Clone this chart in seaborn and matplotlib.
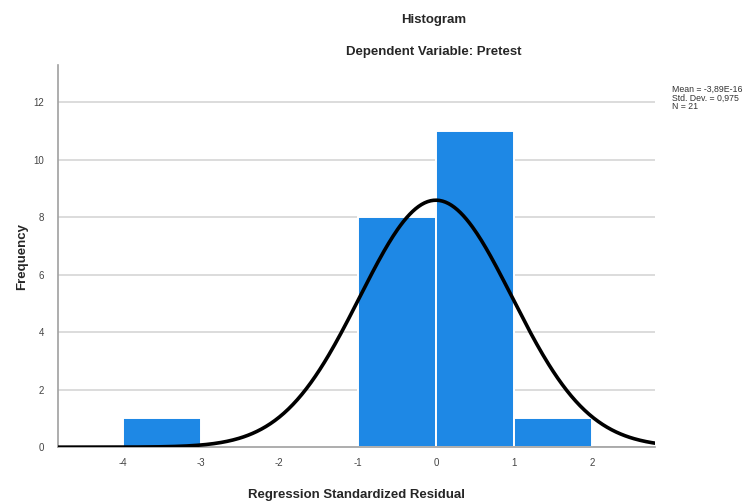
import numpy as np
import matplotlib
matplotlib.use('Agg')
import matplotlib.pyplot as plt
import seaborn as sns

# 히스토그램 구간과 빈도
bin_edges = [-4, -3, -2, -1, 0, 1, 2]
bin_counts = [1, 0, 0, 8, 11, 1]
x_ticks = [-4, -3, -2, -1, 0, 1, 2]
y_ticks = [0, 2, 4, 6, 8, 10, 12]

# 정규곡선용 요약 통계
resid_mean = -3.89e-16
resid_std = 0.975
n_obs = 21

sns.set_style('white')
plt.rcParams['font.family'] = ['Liberation Sans', 'DejaVu Sans']

fig = plt.figure(figsize=(7.52, 5.03), dpi=100)
ax = fig.add_axes([0.077, 0.111, 0.794, 0.76])

centers = [(a + b) / 2 for a, b in zip(bin_edges[:-1], bin_edges[1:])]
sns.histplot(ax=ax, x=centers, weights=bin_counts, bins=bin_edges,
             color='#1E88E5', alpha=1, edgecolor='white', linewidth=1.4, zorder=2)

# 정규분포 곡선
xs = np.linspace(-4.83, 2.8, 400)
bw = bin_edges[1] - bin_edges[0]
ys = n_obs * bw / (resid_std * np.sqrt(2 * np.pi)) * np.exp(-0.5 * ((xs - resid_mean) / resid_std) ** 2)
sns.lineplot(ax=ax, x=xs, y=ys, color='black', linewidth=2.6, zorder=3)

ax.set_xlim(-4.83, 2.8)
ax.set_ylim(0, 13.3)
ax.set_xticks(x_ticks)
ax.set_yticks(y_ticks)
ax.set_xticklabels([str(t) for t in x_ticks])
ax.tick_params(axis='both', length=0, labelsize=7, colors='#444444')
ax.tick_params(axis='x', pad=8)
ax.tick_params(axis='y', pad=10)
ax.yaxis.grid(True, color='#d6d6d6', linewidth=1.2)
ax.set_axisbelow(True)
for s in ['top', 'right']:
    ax.spines[s].set_visible(False)
for s in ['left', 'bottom']:
    ax.spines[s].set_color('#a0a0a0')
    ax.spines[s].set_linewidth(1.2)

ax.set_xlabel('Regression Standardized Residual', fontsize=9.5, fontweight='bold', labelpad=15)
ax.set_ylabel('Frequency', fontsize=9.5, fontweight='bold', labelpad=4)

fig.text(0.577, 0.96, 'Histogram', ha='center', va='center', fontsize=9.5, fontweight='bold')
fig.text(0.577, 0.897, 'Dependent Variable: Pretest', ha='center', va='center', fontsize=9.5, fontweight='bold')
fig.text(0.893, 0.805, 'Mean = -3,89E-16\nStd. Dev. = 0,975\nN = 21',
         ha='left', va='center', fontsize=6.3, color='#333333', linespacing=0.95)

fig.savefig('out.png', dpi=100)
plt.close(fig)
